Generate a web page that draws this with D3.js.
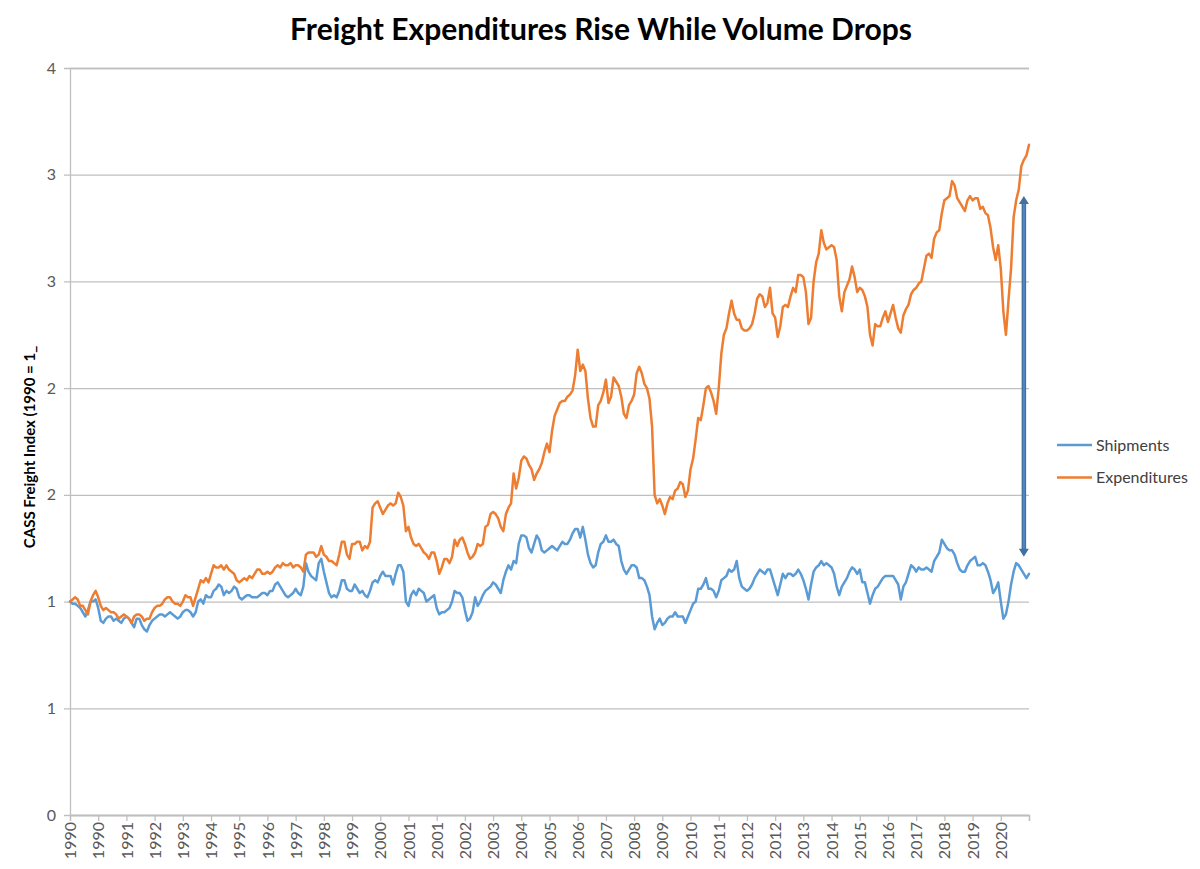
<!DOCTYPE html>
<html><head><meta charset="utf-8">
<script src="https://cdn.jsdelivr.net/npm/d3@7/dist/d3.min.js"></script>
<style>
body{margin:0;background:#fff;}
svg{display:block;font-family:Lato,"Open Sans",sans-serif;}
</style>
</head><body>
<svg id="chart" width="1200" height="869"></svg>
<script>
const chartTitle = "Freight Expenditures Rise While Volume Drops";
const yAxisTitle = "CASS Freight Index (1990 = 1_";
const seriesNames = ["Shipments", "Expenditures"];
const seriesColors = ["#5B9BD5", "#ED7D31"];

// Monthly index values, Jan 1990 – Mar 2021
const shipments = [
  1.00,0.99,0.99,0.98,0.97,0.95,0.93,0.96,1.00,1.00,1.01,0.97,
  0.91,0.90,0.92,0.93,0.93,0.91,0.92,0.91,0.90,0.92,0.93,0.92,
  0.90,0.88,0.92,0.92,0.89,0.87,0.86,0.89,0.91,0.92,0.93,0.94,
  0.94,0.93,0.94,0.95,0.94,0.93,0.92,0.93,0.95,0.96,0.96,0.95,
  0.93,0.95,1.00,1.01,0.99,1.03,1.02,1.02,1.05,1.06,1.08,1.07,
  1.03,1.05,1.04,1.05,1.07,1.06,1.02,1.01,1.02,1.03,1.03,1.02,
  1.02,1.02,1.03,1.04,1.04,1.03,1.05,1.05,1.08,1.09,1.07,1.05,
  1.03,1.02,1.03,1.04,1.06,1.04,1.03,1.07,1.18,1.14,1.12,1.11,
  1.10,1.18,1.20,1.14,1.09,1.04,1.02,1.03,1.02,1.05,1.10,1.10,
  1.06,1.05,1.05,1.08,1.06,1.04,1.05,1.03,1.02,1.05,1.09,1.10,
  1.09,1.12,1.14,1.12,1.12,1.12,1.08,1.13,1.17,1.17,1.14,1.00,
  0.98,1.03,1.05,1.03,1.06,1.05,1.04,1.00,1.01,1.02,1.03,0.97,
  0.94,0.95,0.95,0.96,0.97,1.00,1.05,1.04,1.04,1.02,0.96,0.91,
  0.92,0.95,1.02,0.98,1.00,1.03,1.05,1.06,1.07,1.09,1.08,1.06,
  1.04,1.10,1.14,1.17,1.15,1.19,1.18,1.27,1.31,1.31,1.30,1.25,
  1.23,1.27,1.31,1.29,1.24,1.23,1.24,1.25,1.26,1.25,1.24,1.26,
  1.28,1.27,1.27,1.29,1.32,1.34,1.34,1.30,1.35,1.29,1.22,1.18,
  1.16,1.17,1.23,1.27,1.28,1.31,1.28,1.28,1.29,1.27,1.26,1.19,
  1.15,1.13,1.15,1.17,1.17,1.16,1.11,1.11,1.10,1.07,1.03,0.93,
  0.87,0.90,0.92,0.89,0.90,0.92,0.93,0.93,0.95,0.93,0.93,0.93,
  0.90,0.93,0.96,0.99,1.00,1.06,1.06,1.08,1.11,1.06,1.06,1.05,
  1.02,1.05,1.10,1.11,1.12,1.15,1.14,1.15,1.19,1.11,1.07,1.06,
  1.05,1.06,1.08,1.11,1.13,1.15,1.14,1.13,1.15,1.15,1.11,1.07,
  1.03,1.08,1.13,1.11,1.13,1.13,1.12,1.13,1.15,1.13,1.10,1.06,
  1.01,1.08,1.14,1.16,1.17,1.19,1.17,1.18,1.17,1.16,1.13,1.07,
  1.03,1.07,1.09,1.11,1.14,1.16,1.15,1.13,1.15,1.09,1.09,1.04,
  0.99,1.03,1.06,1.07,1.09,1.11,1.12,1.12,1.12,1.12,1.10,1.08,
  1.01,1.07,1.09,1.13,1.17,1.16,1.14,1.16,1.15,1.15,1.16,1.15,
  1.14,1.19,1.21,1.23,1.29,1.27,1.25,1.24,1.24,1.22,1.18,1.15,
  1.14,1.14,1.17,1.19,1.20,1.21,1.17,1.17,1.18,1.17,1.14,1.10,
  1.04,1.06,1.09,1.00,0.92,0.94,1.00,1.08,1.14,1.18,1.17,1.15,
  1.13,1.11,1.13
];
const expenditures = [
  1.00,1.01,1.02,1.01,0.98,0.98,0.96,0.94,1.00,1.03,1.05,1.02,
  0.98,0.96,0.97,0.96,0.95,0.95,0.94,0.92,0.93,0.94,0.93,0.92,
  0.90,0.93,0.94,0.94,0.93,0.91,0.92,0.92,0.95,0.97,0.98,0.98,
  0.99,1.01,1.02,1.02,1.00,0.99,0.99,0.98,1.00,1.03,1.02,1.02,
  0.98,1.02,1.06,1.10,1.09,1.11,1.09,1.13,1.17,1.16,1.16,1.17,
  1.15,1.17,1.15,1.14,1.13,1.10,1.09,1.10,1.11,1.10,1.12,1.11,
  1.13,1.15,1.15,1.13,1.13,1.14,1.13,1.14,1.16,1.17,1.16,1.18,
  1.17,1.17,1.18,1.16,1.17,1.17,1.16,1.14,1.22,1.23,1.23,1.23,
  1.21,1.22,1.26,1.22,1.21,1.19,1.19,1.18,1.17,1.22,1.28,1.28,
  1.22,1.20,1.27,1.27,1.28,1.28,1.24,1.26,1.25,1.28,1.44,1.46,
  1.47,1.44,1.41,1.43,1.45,1.46,1.45,1.46,1.51,1.49,1.45,1.33,
  1.35,1.30,1.27,1.26,1.27,1.25,1.23,1.22,1.20,1.23,1.23,1.19,
  1.13,1.16,1.20,1.20,1.18,1.21,1.29,1.26,1.29,1.30,1.27,1.23,
  1.20,1.21,1.23,1.27,1.26,1.27,1.35,1.36,1.41,1.42,1.41,1.39,
  1.35,1.33,1.41,1.44,1.46,1.60,1.53,1.58,1.66,1.68,1.67,1.64,
  1.62,1.57,1.60,1.62,1.65,1.70,1.74,1.70,1.80,1.87,1.90,1.93,
  1.94,1.94,1.96,1.97,1.99,2.06,2.18,2.08,2.11,2.08,1.95,1.86,
  1.82,1.82,1.92,1.94,1.98,2.04,1.93,1.96,2.05,2.03,2.01,1.96,
  1.88,1.86,1.92,1.94,1.97,2.07,2.10,2.07,2.02,2.00,1.95,1.82,
  1.50,1.46,1.48,1.45,1.41,1.46,1.49,1.48,1.52,1.53,1.56,1.55,
  1.49,1.52,1.62,1.67,1.76,1.86,1.85,1.92,2.00,2.01,1.98,1.94,
  1.88,2.00,2.16,2.25,2.28,2.35,2.41,2.35,2.32,2.32,2.28,2.27,
  2.27,2.28,2.30,2.35,2.42,2.44,2.43,2.38,2.40,2.47,2.35,2.33,
  2.24,2.29,2.38,2.39,2.38,2.43,2.47,2.45,2.53,2.53,2.52,2.45,
  2.30,2.33,2.50,2.59,2.63,2.74,2.68,2.65,2.66,2.67,2.66,2.60,
  2.43,2.36,2.45,2.48,2.51,2.57,2.52,2.45,2.47,2.46,2.43,2.38,
  2.25,2.20,2.30,2.29,2.29,2.33,2.36,2.31,2.35,2.39,2.33,2.28,
  2.26,2.34,2.37,2.39,2.44,2.46,2.47,2.49,2.50,2.56,2.62,2.63,
  2.61,2.70,2.73,2.74,2.82,2.88,2.89,2.90,2.97,2.95,2.89,2.87,
  2.85,2.83,2.88,2.90,2.88,2.89,2.89,2.84,2.85,2.82,2.81,2.75,
  2.66,2.60,2.67,2.56,2.36,2.25,2.41,2.56,2.80,2.88,2.93,3.04,
  3.07,3.09,3.14
];

const yTicks = [0, 0.5, 1, 1.5, 2, 2.5, 3, 3.5];
const yTickLabels = ["0","1","1","2","2","3","3","4"];
const xTickEvery = 11; // months between category ticks
const xTickLabels = ["1990","1990","1991","1992","1993","1994","1995","1996","1997","1998","1999","2000",
  "2001","2001","2002","2003","2004","2005","2006","2007","2008","2009","2010","2011","2012","2012",
  "2013","2014","2015","2016","2017","2018","2019","2020"];
// double-headed arrow annotation: month index, lower value, upper value
const arrowMonth = [372];
const arrowRange = [1.21, 2.90];

const svg = d3.select("#chart");
const W = 1200, H = 869;
const m = {left: 70, right: 171, top: 68, bottom: 54};
const n = shipments.length;

const x = d3.scaleLinear().domain([0, n - 1]).range([m.left, W - m.right]);
const y = d3.scaleLinear().domain([0, 3.5]).range([H - m.bottom, m.top]);

svg.append("rect").attr("width", W).attr("height", H).attr("fill", "#fff");

// Title
svg.append("text").attr("x", 601).attr("y", 40).attr("text-anchor", "middle")
  .attr("font-size", 30).attr("font-weight", "bold").attr("fill", "#000")
  .text(chartTitle);

// Gridlines + y axis
const yAxis = d3.axisLeft(y).tickValues(yTicks).tickSize(-(W - m.right - m.left))
  .tickFormat((d, i) => yTickLabels[i]).tickPadding(14);
const gy = svg.append("g").attr("transform", `translate(${m.left},0)`).call(yAxis);
gy.select(".domain").attr("stroke", "#BFBFBF").attr("stroke-width", 1.3);
gy.selectAll(".tick line").attr("stroke", "#BFBFBF").attr("stroke-width", 1.3).attr("x1", -6);
gy.selectAll(".tick text").attr("fill", "#595959").attr("font-size", 16).attr("font-family", "Lato");

// x axis
const xTickVals = d3.range(0, n, xTickEvery);
const xAxis = d3.axisBottom(x).tickValues(xTickVals).tickSize(6)
  .tickFormat((d, i) => xTickLabels[i] !== undefined ? xTickLabels[i] : "");
const gx = svg.append("g").attr("transform", `translate(0,${H - m.bottom})`).call(xAxis);
gx.select(".domain").attr("stroke", "#BFBFBF").attr("stroke-width", 1.3);
gx.selectAll(".tick line").attr("stroke", "#BFBFBF").attr("stroke-width", 1.3);
gx.selectAll(".tick text").attr("fill", "#595959").attr("font-size", 16).attr("font-family", "Lato")
  .attr("text-anchor", "end").attr("transform", "rotate(-90)")
  .attr("x", -7).attr("y", 0).attr("dy", "0.35em");

// Y axis title
svg.append("text").attr("transform", "translate(35,447) rotate(-90)")
  .attr("text-anchor", "middle").attr("font-size", 15).attr("font-weight", "bold")
  .attr("fill", "#000").text(yAxisTitle);

// Lines
const line = d3.line().x((d, i) => x(i)).y(d => y(d));
[shipments, expenditures].forEach((s, k) => {
  svg.append("path").datum(s).attr("fill", "none").attr("stroke", seriesColors[k])
    .attr("stroke-width", 2.5).attr("stroke-linejoin", "round").attr("stroke-linecap", "round")
    .attr("d", line);
});

// Arrow annotation
const ax = x(arrowMonth[0]);
const ay1 = y(arrowRange[1]), ay2 = y(arrowRange[0]);
svg.append("line").attr("x1", ax).attr("x2", ax).attr("y1", ay1 + 5).attr("y2", ay2 - 5)
  .attr("stroke", "#41719C").attr("stroke-width", 4.5);
svg.append("line").attr("x1", ax).attr("x2", ax).attr("y1", ay1 + 5).attr("y2", ay2 - 5)
  .attr("stroke", "#4F86C6").attr("stroke-width", 2);
svg.append("path").attr("d", `M${ax},${ay1} L${ax - 5},${ay1 + 8} L${ax + 5},${ay1 + 8} Z`)
  .attr("fill", "#41719C");
svg.append("path").attr("d", `M${ax},${ay2} L${ax - 5},${ay2 - 8} L${ax + 5},${ay2 - 8} Z`)
  .attr("fill", "#41719C");

// Legend
const legend = svg.append("g");
seriesNames.forEach((name, k) => {
  const ly = 445 + k * 32.5;
  legend.append("line").attr("x1", 1057).attr("x2", 1092).attr("y1", ly).attr("y2", ly)
    .attr("stroke", seriesColors[k]).attr("stroke-width", 2.5);
  legend.append("text").attr("x", 1096).attr("y", ly).attr("dy", "0.35em")
    .attr("font-size", 16).attr("fill", "#404040").text(name);
});
</script>
</body></html>
